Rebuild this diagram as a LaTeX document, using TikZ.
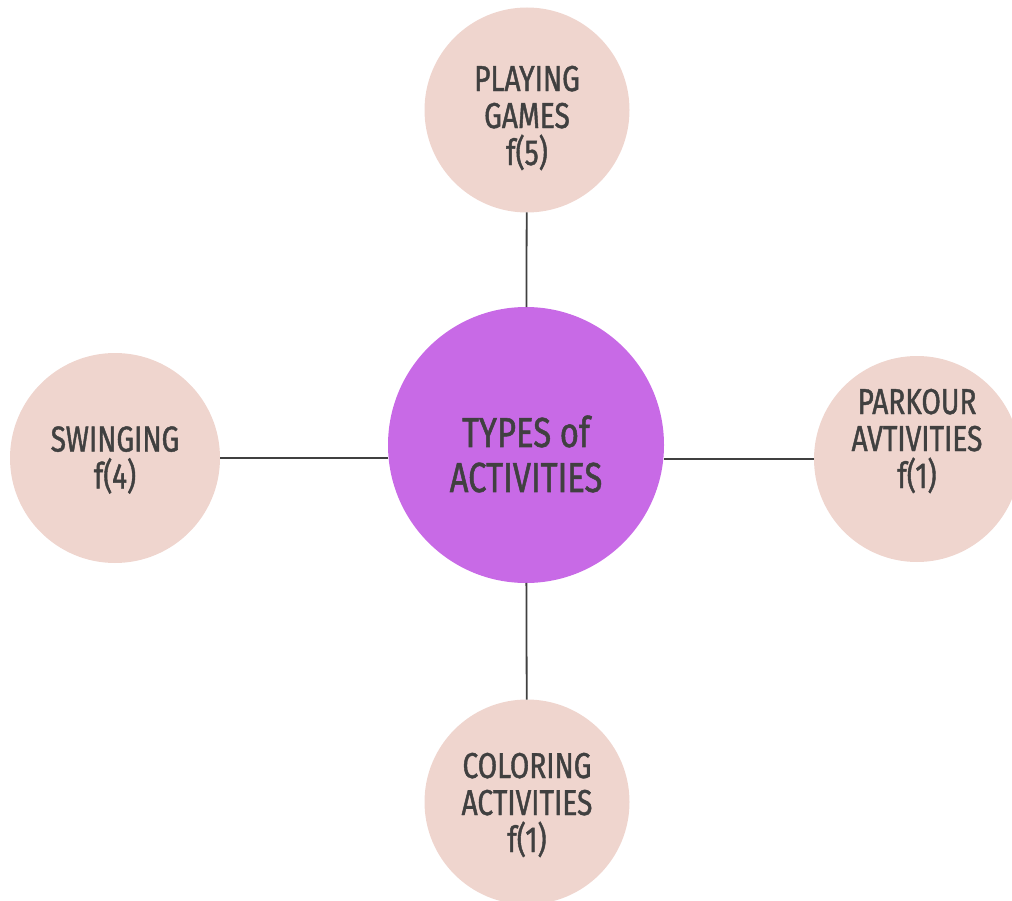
\documentclass[tikz,border=0pt]{standalone}
\usepackage{fontspec}
\setmainfont[FakeStretch=0.78, FakeBold=1.2]{Fira Sans}
\usepackage{tikz}

\definecolor{petal}{HTML}{EFD5CE}
\definecolor{hub}{HTML}{C86AE6}
\definecolor{ink}{HTML}{404040}

\tikzset{
  leaf/.style={circle, fill=petal, inner sep=0pt, outer sep=0pt, minimum size=205pt},
  core/.style={circle, fill=hub, inner sep=0pt, outer sep=0pt, minimum size=276pt},
  tag/.style={align=center, text=ink, inner sep=0pt, font=\fontsize{36}{37}\selectfont},
  bigtag/.style={tag, font=\fontsize{42}{45}\selectfont},
  link/.style={draw=ink, line width=1.8pt}
}

\begin{document}
\begin{tikzpicture}[x=1pt, y=1pt]
        \useasboundingbox (0,0) rectangle (1012,-901);

        \node[core] (T) at (526,-445) {};
        \node[leaf] (G) at (527,-110) {};
        \node[leaf, minimum size=210pt] (S) at (115,-458) {};
        \node[leaf, minimum size=206pt] (P) at (917,-459) {};
        \node[leaf] (C) at (527,-802) {};

        % texts
        \node[bigtag] (Tt) at ([yshift=-9]T.center) {TYPES of\\ACTIVITIES};
        \node[tag] (Gt) at ([yshift=-8]G.center) {PLAYING\\GAMES\\f(5)};
        \node[tag] (St) at ([yshift=-2]S.center) {SWINGING\\f(4)};
        \node[tag] (Pt) at ([yshift=18]P.center) {PARKOUR\\AVTIVITIES\\f(1)};
        \node[tag] (Ct) at ([yshift=-3]C.center) {COLORING\\ACTIVITIES\\f(1)};

        \draw[link] (T) -- (G);
        \draw[link] (S.east) -- (S.east -| T.west);
        \draw[link] (P.west) -- (P.west -| T.east);
        \draw[link] (T) -- (C);
    \end{tikzpicture}
\end{document}
